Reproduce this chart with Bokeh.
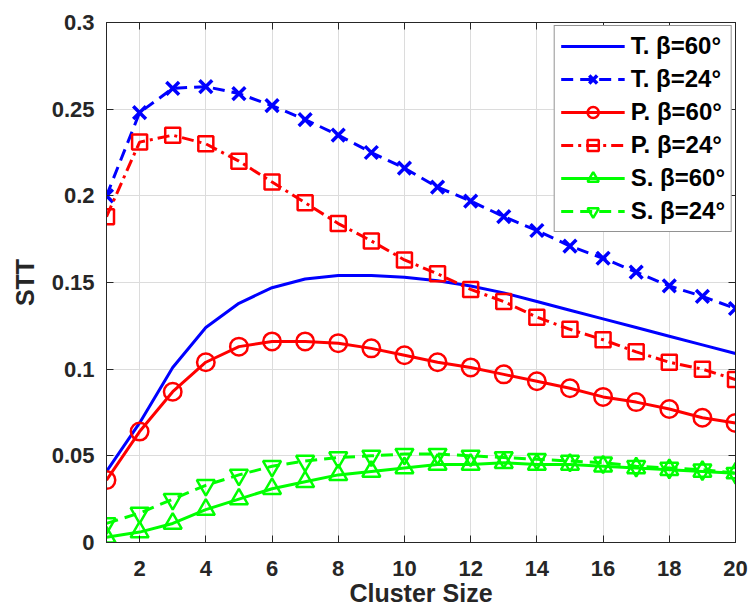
from bokeh.plotting import figure
from bokeh.models import (Range1d, FixedTicker, NumeralTickFormatter, LinearAxis,
                          Legend, CustomJSTickFormatter)
from bokeh.embed import file_html
from bokeh.resources import INLINE

# Cluster sizes on the x axis
cluster_size = list(range(1, 21))

# STT values per scheme and beta angle
t_60 = [0.041, 0.069, 0.101, 0.124, 0.138, 0.147, 0.152, 0.154, 0.154, 0.153,
        0.151, 0.148, 0.144, 0.139, 0.134, 0.129, 0.124, 0.119, 0.114, 0.109]
t_24 = [0.200, 0.248, 0.262, 0.263, 0.259, 0.252, 0.244, 0.235, 0.225, 0.216,
        0.205, 0.197, 0.188, 0.180, 0.171, 0.164, 0.156, 0.148, 0.142, 0.135]
p_60 = [0.036, 0.064, 0.087, 0.104, 0.113, 0.116, 0.116, 0.115, 0.112, 0.108,
        0.104, 0.101, 0.097, 0.093, 0.089, 0.084, 0.081, 0.077, 0.072, 0.069]
p_24 = [0.188, 0.231, 0.235, 0.230, 0.220, 0.208, 0.196, 0.184, 0.174, 0.163,
        0.155, 0.146, 0.139, 0.130, 0.123, 0.117, 0.110, 0.104, 0.100, 0.094]
s_60 = [0.003, 0.006, 0.011, 0.019, 0.025, 0.031, 0.035, 0.039, 0.041, 0.043,
        0.045, 0.045, 0.046, 0.045, 0.045, 0.044, 0.043, 0.042, 0.041, 0.040]
s_24 = [0.011, 0.017, 0.025, 0.033, 0.039, 0.044, 0.047, 0.049, 0.050, 0.051,
        0.051, 0.050, 0.049, 0.048, 0.047, 0.046, 0.044, 0.043, 0.042, 0.040]

x_ticks = list(range(2, 21, 2))
y_ticks = [0, 0.05, 0.1, 0.15, 0.2, 0.25, 0.3]

FONT = "Liberation Sans"
TEXT = "#262626"
BLUE, RED, GREEN = "#0000ff", "#ff0000", "#00ff00"

p = figure(width=750, height=616, output_backend="svg", toolbar_location=None,
           x_range=Range1d(1, 20), y_range=Range1d(0, 0.3),
           min_border_left=106, min_border_right=15, min_border_top=22,
           min_border_bottom=74)
p.background_fill_color = "white"
p.border_fill_color = "white"
p.outline_line_color = TEXT
p.outline_line_width = 1

# axes
for ax in (p.xaxis[0], p.yaxis[0]):
    ax.major_tick_in = 7
    ax.major_tick_out = 0
    ax.minor_tick_in = 0
    ax.minor_tick_out = 0
    ax.axis_line_color = TEXT
    ax.major_tick_line_color = TEXT
    ax.major_label_text_font = FONT
    ax.major_label_text_font_style = "bold"
    ax.major_label_text_font_size = "22px"
    ax.major_label_text_color = TEXT
    ax.axis_label_text_font = FONT
    ax.axis_label_text_font_style = "bold"
    ax.axis_label_text_font_size = "25px"
    ax.axis_label_text_color = TEXT

p.xaxis.ticker = FixedTicker(ticks=x_ticks)
p.yaxis.ticker = FixedTicker(ticks=y_ticks)
p.yaxis.formatter = NumeralTickFormatter(format="0.[00]")
p.xaxis.axis_label = "Cluster Size"
p.yaxis.axis_label = "STT"
p.xaxis.major_label_standoff = 18
p.yaxis.major_label_standoff = 12
p.xaxis.axis_label_standoff = 0
p.yaxis.axis_label_standoff = 10

# box ticks on the top and right edges, without labels
blank = CustomJSTickFormatter(code="return ''")
right = LinearAxis(ticker=FixedTicker(ticks=y_ticks), formatter=blank,
                   major_tick_in=7, major_tick_out=0, minor_tick_in=0, minor_tick_out=0,
                   axis_line_color=TEXT, major_tick_line_color=TEXT,
                   major_label_standoff=0)
top = LinearAxis(ticker=FixedTicker(ticks=x_ticks), formatter=blank,
                 major_tick_in=7, major_tick_out=0, minor_tick_in=0, minor_tick_out=0,
                 axis_line_color=TEXT, major_tick_line_color=TEXT,
                 major_label_standoff=0)
p.add_layout(right, "right")
p.add_layout(top, "above")

p.xgrid.ticker = FixedTicker(ticks=x_ticks)
p.ygrid.ticker = FixedTicker(ticks=y_ticks)
p.grid.grid_line_color = "#dcdcdc"
p.grid.grid_line_width = 1

LW = 3
items = []

r1 = p.line(cluster_size, t_60, line_color=BLUE, line_width=LW)
items.append(("T. β=60°", [r1]))

r2 = p.line(cluster_size, t_24, line_color=BLUE, line_width=LW, line_dash="12 7")
m2 = p.scatter(cluster_size, t_24, marker="x", size=18, line_color=BLUE, line_width=3.5)
items.append(("T. β=24°", [r2, m2]))

r3 = p.line(cluster_size, p_60, line_color=RED, line_width=LW)
m3 = p.scatter(cluster_size, p_60, marker="circle", size=17.5, line_color=RED,
               line_width=2.5, fill_color=None)
items.append(("P. β=60°", [r3, m3]))

r4 = p.line(cluster_size, p_24, line_color=RED, line_width=LW, line_dash="12 5 3 5")
m4 = p.scatter(cluster_size, p_24, marker="square", size=15, line_color=RED,
               line_width=2.5, fill_color=None)
items.append(("P. β=24°", [r4, m4]))

r5 = p.line(cluster_size, s_60, line_color=GREEN, line_width=LW)
m5 = p.scatter(cluster_size, s_60, marker="triangle", size=18, line_color=GREEN,
               line_width=2.5, fill_color=None)
items.append(("S. β=60°", [r5, m5]))

r6 = p.line(cluster_size, s_24, line_color=GREEN, line_width=LW, line_dash="12 7")
m6 = p.scatter(cluster_size, s_24, marker="inverted_triangle", size=18, line_color=GREEN,
               line_width=2.5, fill_color=None)
items.append(("S. β=24°", [r6, m6]))

legend = Legend(items=items, location="top_right")
legend.label_text_font = FONT
legend.label_text_font_style = "bold"
legend.label_text_font_size = "24px"
legend.label_text_color = "black"
legend.glyph_width = 64
legend.glyph_height = 28
legend.label_height = 28
legend.spacing = 5
legend.padding = 6
legend.margin = 3
legend.label_standoff = 6
legend.border_line_color = TEXT
legend.border_line_width = 1
legend.background_fill_alpha = 1
p.add_layout(legend)

open("out.html", "w").write(file_html(p, INLINE))
